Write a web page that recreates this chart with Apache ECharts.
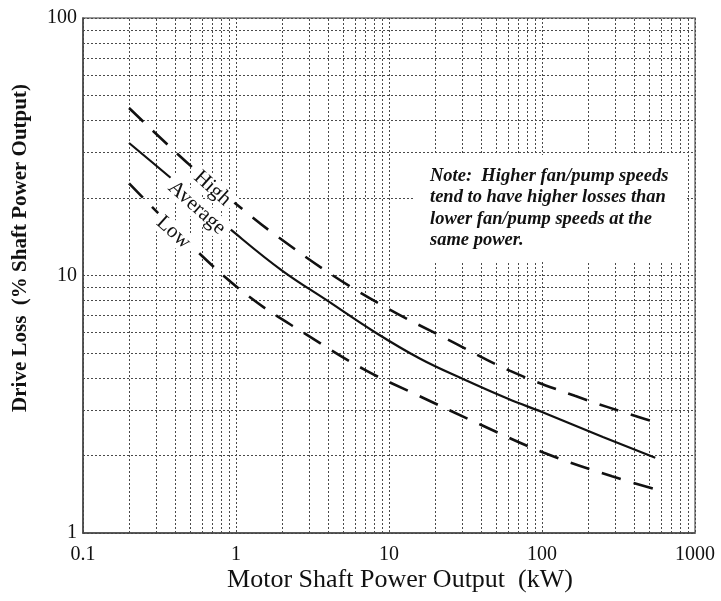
<!DOCTYPE html>
<html><head><meta charset="utf-8">
<script src="https://cdn.jsdelivr.net/npm/echarts@6/dist/echarts.min.js"></script>
<style>html,body{margin:0;padding:0;background:#fff}#c{width:721px;height:601px}</style>
</head><body><div id="c"></div>
<script>
// ---- data ----
const highX = [0.2, 0.515, 1.18, 1.8, 4.3, 10, 24, 62, 164, 443, 550];
const highY = [44.7, 26.4, 17.5, 14.4, 10, 7.4, 5.66, 4.26, 3.41, 2.8, 2.7];
const avgX = [0.2, 0.5, 1, 2, 4, 8, 16, 30, 60, 100, 250, 550];
const avgY = [32.7, 20.7, 14.5, 10.45, 7.95, 6.05, 4.75, 3.98, 3.32, 2.95, 2.36, 1.96];
const lowX = [0.2, 0.5, 1.18, 2.91, 6.96, 15.2, 40.5, 103, 287, 550];
const lowY = [22.8, 13.2, 8.4, 5.88, 4.3, 3.44, 2.62, 2.05, 1.66, 1.48];
const xTickLabels = [0.1, 1, 10, 100, 1000];
const yTickLabels = [1, 10, 100];
const xMinorGrid = [0.2,0.3,0.4,0.5,0.6,0.7,0.8,0.9, 2,3,4,5,6,7,8,9, 20,30,40,50,60,70,80,90, 200,300,400,500,600,700,800,900];
const yMinorGrid = [2,3,4,5,6,7,8,9, 20,30,40,50,60,70,80,90];
const curveNames = ['High', 'Average', 'Low'];
const curveLabelAt = [[0.70, 21.8], [0.555, 18.3], [0.39, 14.7]];
const noteLines = ['Note:  Higher fan/pump speeds', 'tend to have higher losses than', 'lower fan/pump speeds at the', 'same power.'];
const xTitle = 'Motor Shaft Power Output  (kW)';
const yTitle = 'Drive Loss  (% Shaft Power Output)';

const serif = '"Liberation Serif", "Times New Roman", serif';
const pairs = (xs, ys) => xs.map((x, i) => [x, ys[i]]);
const gridStyle = { color: '#4a4a4a', type: [2, 2], width: 1 };
const fmt = v => { const r = Math.round(Math.log10(v)); return xTickLabels.concat(yTickLabels).find(t => Math.abs(Math.log10(t) - r) < 1e-6) + ''; };

const chart = echarts.init(document.getElementById('c'));
chart.setOption({
  animation: false,
  backgroundColor: '#fff',
  grid: { left: 83, right: 26, top: 18, bottom: 68, show: true, borderColor: '#777', borderWidth: 1.5 },
  xAxis: {
    type: 'log', logBase: 10, min: 0.1, max: 1000,
    axisLine: { lineStyle: { color: '#444', width: 1.5 } },
    axisTick: { show: false },
    axisLabel: { fontFamily: serif, fontSize: 20, color: '#111', margin: 12, formatter: fmt },
    splitLine: { show: true, lineStyle: gridStyle }
  },
  yAxis: {
    type: 'log', logBase: 10, min: 1, max: 100,
    axisLine: { show: true, lineStyle: { color: '#444', width: 1.5 } },
    axisTick: { show: false },
    axisLabel: { fontFamily: serif, fontSize: 20, color: '#111', margin: 6, formatter: fmt },
    splitLine: { show: true, lineStyle: gridStyle }
  },
  series: [
    {
      name: curveNames[0], type: 'line', data: pairs(highX, highY), smooth: 0.4, symbol: 'none', z: 3,
      lineStyle: { color: '#111', width: 2.6, type: [20, 13] },
      markLine: {
        z: 1, silent: true, symbol: ['none', 'none'], label: { show: false }, animation: false,
        lineStyle: gridStyle,
        data: xMinorGrid.map(v => ({ xAxis: v })).concat(yMinorGrid.map(v => ({ yAxis: v })))
      }
    },
    { name: curveNames[1], type: 'line', data: pairs(avgX, avgY), smooth: 0.4, symbol: 'none', z: 3,
      lineStyle: { color: '#111', width: 2.2, type: 'solid' } },
    { name: curveNames[2], type: 'line', data: pairs(lowX, lowY), smooth: 0.4, symbol: 'none', z: 3,
      lineStyle: { color: '#111', width: 2.6, type: [20, 13] } }
  ]
});

const graphics = [];
// white area behind the note
graphics.push({ type: 'rect', z: 50, shape: { x: 415, y: 155, width: 272, height: 107 }, style: { fill: '#fff' } });
noteLines.forEach((t, i) => graphics.push({
  type: 'text', z: 60, x: 430, y: 176 + i * 21.5,
  style: { text: t, fontFamily: serif, fontSize: 18.5, fontStyle: 'italic', fontWeight: 'bold', fill: '#111', align: 'left', verticalAlign: 'middle' }
}));
curveNames.forEach((n, i) => {
  const p = chart.convertToPixel({ gridIndex: 0 }, curveLabelAt[i]);
  graphics.push({
    type: 'text', z: 60, x: p[0], y: p[1], rotation: -42 * Math.PI / 180,
    style: { text: n, fontFamily: serif, fontSize: 21, fill: '#111', align: 'center', verticalAlign: 'middle',
      backgroundColor: '#fff', padding: [0, 5] }
  });
});
graphics.push({ type: 'text', z: 60, x: 400, y: 580,
  style: { text: xTitle, fontFamily: serif, fontSize: 26, fill: '#111', align: 'center', verticalAlign: 'middle' } });
graphics.push({ type: 'text', z: 60, x: 21, y: 248, rotation: Math.PI / 2,
  style: { text: yTitle, fontFamily: serif, fontSize: 21, fontWeight: 'bold', fill: '#111', align: 'center', verticalAlign: 'middle' } });
chart.setOption({ graphic: graphics });
</script>
</body></html>
